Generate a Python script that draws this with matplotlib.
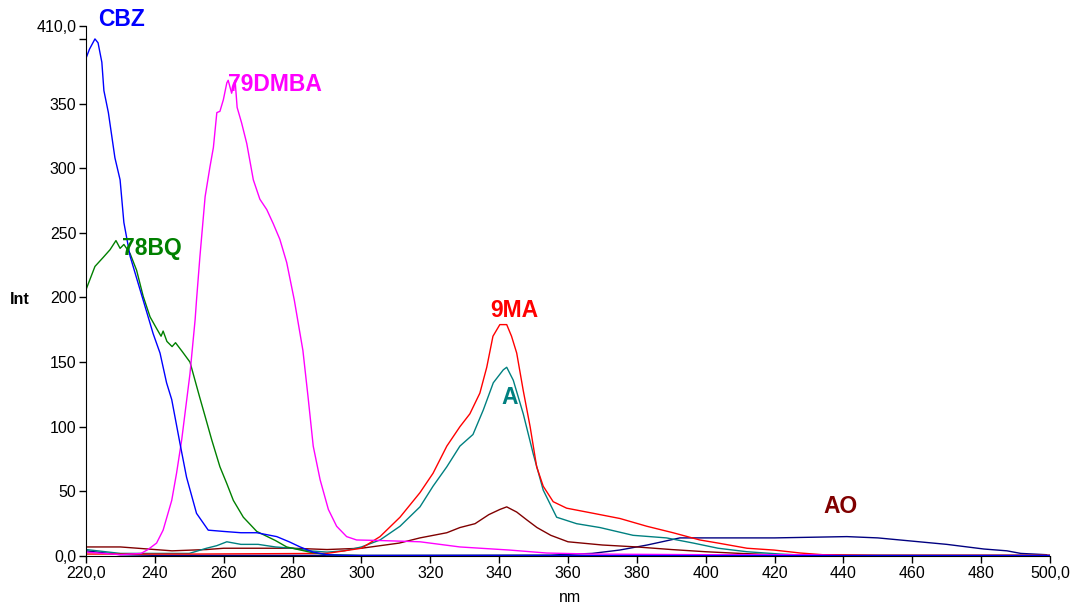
import matplotlib
matplotlib.use("Agg")
import matplotlib.pyplot as plt

plt.rcParams['font.family'] = ['Liberation Sans', 'DejaVu Sans']

# ---- data ----
cbz_x = [220, 221, 222.6, 223.5, 224.6, 225.2, 226.5, 228.4, 229.9, 231, 232.8, 235.7, 236.6,
         239.5, 241.5, 243.4, 244.9, 247.3, 249.2, 252.1, 255.5, 260, 265, 269.6, 275.4, 279,
         282.2, 286, 290, 295, 300, 400, 500]
cbz_y = [385, 392, 400, 397, 382, 360, 343, 308, 291, 258, 232, 206, 198,
         172, 157, 134, 121, 87, 61, 33, 20, 19, 18, 18, 15, 11,
         7, 3, 1, 0.5, 0.3, 0.3, 0.3]

navy_x = [220, 225, 230, 240, 300, 355, 362, 367, 375, 383, 392.5, 401, 420, 441, 450,
          459.6, 470, 480.8, 487.5, 491.5, 499]
navy_y = [4, 2.5, 1, 0.5, 0.5, 0.7, 1.5, 2, 4.6, 8.5, 14, 14, 14, 15, 14,
          11.6, 9, 5.4, 4, 2, 1]

bq_x = [220, 222.6, 225, 227, 228.7, 229.9, 231, 232.8, 234.7, 236.6, 238.6, 240.5, 241.8,
        242.4, 243.5, 245, 246, 248, 250.2, 253, 254.6, 256.5, 258.9, 260.9, 262.8, 265.7,
        269.6, 275, 278.3, 285, 290, 300, 380]
bq_y = [206, 224, 231, 237, 244, 238, 241, 234, 221, 201, 185, 176, 170,
        174, 166, 162, 165, 158, 150, 123, 108, 90, 69, 56, 43, 30,
        19, 12, 7, 3, 1, 0.3, 0.3]

dmba_x = [220, 225, 230, 236, 238, 240.5, 242.4, 244.9, 246.3, 247.8, 250.2, 251.7, 252.1,
          253.1, 254.6, 256, 257, 258, 258.9, 259.9, 260.9, 261.3, 262.3, 263.3, 263.9,
          265.2, 266.7, 268.6, 270.5, 272.5, 274.4, 276.3, 278.3, 280.5, 283, 284.5, 286,
          288, 290.4, 292.8, 295.7, 298.6, 305, 317, 328.6, 343, 353.8, 367, 400, 430, 440, 500]
dmba_y = [3, 2, 1, 2, 5, 10, 20, 43, 64, 90, 141, 183, 198,
          232, 278, 301, 316, 343, 344, 353, 366, 368, 358, 368, 347,
          335, 319, 291, 276, 268, 257, 245, 227, 198, 159, 123, 85,
          59, 36, 23, 15, 12.4, 12, 11, 7, 4.6, 2.3, 1.5, 1, 1, 0.3, 0.3]

ma_x = [220, 250, 290, 300, 305.4, 311.2, 317, 320.8, 324.8, 328.6, 331.5, 334.4, 336.4,
        338.2, 340.2, 342.2, 343.6, 345.1, 347, 349, 350.9, 352.8, 355.7, 359.6, 367.4,
        375.1, 382.9, 390.5, 398.3, 403.6, 412, 419.8, 427.5, 434, 450, 500]
ma_y = [1.5, 1.5, 2, 6, 15, 30, 49, 64, 85, 100, 110, 126, 146,
        170, 179, 179, 170, 157, 128, 100, 69, 54, 42, 37, 33,
        29, 23, 18, 12.4, 10, 6, 4.6, 2.3, 1, 0.5, 0.5]

a_x = [220, 230, 240, 250, 255, 258, 260.9, 265, 270, 275, 280, 285, 290, 295, 300, 305.4,
       311.2, 317, 320.8, 324.8, 328.6, 332.4, 335.4, 338.3, 341.2, 342.2, 344.1, 347,
       349.9, 352.8, 356.7, 362.5, 369.3, 378.9, 388.6, 396.4, 403.6, 412, 421.7, 430, 500]
a_y = [5, 2, 2, 2, 6, 8, 11, 9, 9, 7, 6, 4, 3, 4, 7, 12.4,
       23, 38, 54, 69, 85, 94, 113, 134, 144, 146, 136, 110,
       79, 51, 30, 25, 22, 16, 14, 10, 6, 3.3, 1.5, 0.5, 0.5]

ao_x = [220, 225, 230, 235, 240, 245, 250, 255, 260, 270, 280, 290, 300, 311, 317, 324.8,
        328.6, 333, 337, 340.2, 342.2, 345.1, 348, 351, 355, 360, 370, 380, 390, 400, 410,
        420, 440, 500]
ao_y = [7, 7, 7, 6, 5, 4, 4.5, 5, 6, 6, 6, 5, 6, 10, 14, 18,
        22, 25, 32, 36, 38, 34, 28, 22, 16, 11, 8.5, 7, 5, 3.3, 2,
        1, 0.5, 0.5]

x_ticks = [220, 240, 260, 280, 300, 320, 340, 360, 380, 400, 420, 440, 460, 480, 500]
x_labels = ["220,0", "240", "260", "280", "300", "320", "340", "360", "380", "400",
            "420", "440", "460", "480", "500,0"]
y_ticks = [0, 50, 100, 150, 200, 250, 300, 350, 400, 410]
y_labels = ["0,0", "50", "100", "150", "200", "250", "300", "350", "", "410,0"]

# ---- figure ----
fig = plt.figure(figsize=(10.74, 6.04), dpi=100)
ax = fig.add_axes([86 / 1074, 48 / 604, 964 / 1074, 530 / 604])

lw = 1.0
ax.plot(navy_x, navy_y, color="#000080", lw=lw)
ax.plot(ao_x, ao_y, color="#800000", lw=lw)
ax.plot(a_x, a_y, color="#008080", lw=lw)
ax.plot(ma_x, ma_y, color="#FF0000", lw=lw)
ax.plot(bq_x, bq_y, color="#008000", lw=lw)
ax.plot(dmba_x, dmba_y, color="#FF00FF", lw=lw)
ax.plot(cbz_x, cbz_y, color="#0000FF", lw=lw)

ax.set_xlim(220, 500)
ax.set_ylim(0, 410)
ax.spines['top'].set_visible(False)
ax.spines['right'].set_visible(False)
ax.set_xticks(x_ticks)
ax.set_xticklabels(x_labels)
ax.set_yticks(y_ticks)
ax.set_yticklabels(y_labels)
ax.tick_params(direction='out', length=5, width=1, labelsize=11.5, pad=2)

fig.text(10 / 1074, 1 - 300 / 604, "Int", fontsize=11.5, fontweight='bold', va='center', ha='left')
fig.text(570 / 1074, 1 - 597 / 604, "nm", fontsize=11.5, va='center', ha='center')

lab = dict(fontsize=16.5, fontweight='bold', va='center', ha='left', clip_on=False)
ax.text(223.5, 415, "CBZ", color="#0000FF", **lab)
ax.text(261.2, 364.5, "79DMBA", color="#FF00FF", **lab)
ax.text(230.5, 237.6, "78BQ", color="#008000", **lab)
ax.text(337.3, 190, "9MA", color="#FF0000", **lab)
ax.text(340.8, 123, "A", color="#008080", **lab)
ax.text(434.3, 38, "AO", color="#800000", **lab)

fig.savefig("out.png", dpi=100)
